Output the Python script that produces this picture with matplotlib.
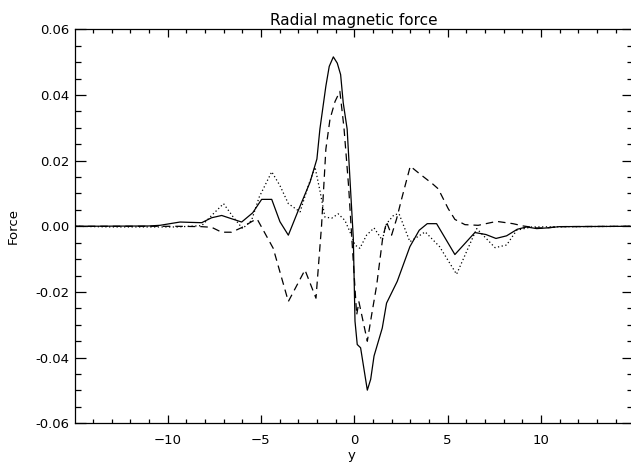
import matplotlib
matplotlib.use('Agg')
import matplotlib.pyplot as plt
from matplotlib.ticker import MultipleLocator

# solid curve
x_solid = [-14.94, -11.0, -10.4, -9.87, -9.33, -8.8, -8.17, -7.64, -7.1, -6.57, -6.03,
           -5.44, -4.96, -4.42, -3.98, -3.53, -3.0, -2.37, -2.0, -1.84, -1.52, -1.34,
           -1.12, -0.91, -0.73, -0.59, -0.38, -0.23, -0.05, 0.04, 0.16, 0.34, 0.70,
           0.88, 1.06, 1.5, 1.73, 2.3, 2.98, 3.48, 3.91, 4.41, 5.39, 6.46, 7.05,
           7.59, 8.16, 8.73, 9.23, 9.77, 10.3, 11.0, 14.94]
y_solid = [0.0, 0.0001, 0.0003, 0.0008, 0.0013, 0.0012, 0.0011, 0.0026, 0.0033, 0.0023, 0.0013,
           0.0041, 0.0082, 0.0082, 0.0014, -0.0027, 0.0048, 0.0134, 0.0205, 0.0296, 0.0427, 0.0487,
           0.0516, 0.0497, 0.0462, 0.0376, 0.0296, 0.0144, -0.0037, -0.0289, -0.036, -0.037, -0.0499,
           -0.0466, -0.0395, -0.031, -0.0234, -0.0168, -0.0062, -0.0012, 0.0008, 0.0008, -0.0086, -0.0019, -0.0025,
           -0.0037, -0.0029, -0.0009, -0.0002, -0.0007, -0.0005, -0.0001, 0.0]

# dashed curve
x_dash = [-14.94, -9.5, -8.2, -7.64, -7.1, -6.57, -6.03, -5.44, -5.2, -4.34, -3.53,
          -2.64, -2.05, -1.75, -1.52, -1.30, -1.03, -0.77, -0.55, -0.3, -0.14, 0.13,
          0.25, 0.70, 0.93, 1.2, 1.52, 1.73, 2.0, 2.27, 2.54, 3.0, 3.5, 4.2, 4.5,
          5.03, 5.39, 5.93, 6.64, 7.63, 8.5, 9.05, 9.77, 10.3, 11.0, 14.94]
y_dash = [0.0, 0.0, -0.0001, -0.0003, -0.0018, -0.0018, -0.0004, 0.0016, 0.0022, -0.0067, -0.0229,
          -0.0133, -0.0219, 0.0003, 0.0235, 0.0326, 0.038, 0.0411, 0.03, 0.012, -0.0027, -0.027,
          -0.023, -0.035, -0.027, -0.018, -0.0037, 0.0013, -0.0027, 0.0023, 0.0084, 0.0183, 0.0160, 0.0129, 0.0114,
          0.0054, 0.0021, 0.0005, 0.0003, 0.0015, 0.0008, 0.0001, -0.0005, -0.0005, -0.0001, 0.0]

# dotted curve
x_dot = [-14.94, -13.0, -9.5, -8.17, -7.55, -7.0, -6.48, -5.98, -5.5, -5.09, -4.42,
         -3.98, -3.53, -2.9, -2.46, -2.1, -1.84, -1.57, -1.2, -0.86, -0.5, -0.23,
         0.04, 0.3, 0.66, 1.06, 1.5, 1.73, 2.13, 2.4, 2.98, 3.8, 4.57, 5.48,
         6.56, 7.54, 8.16, 8.7, 9.5, 14.94]
y_dot = [0.0, -0.0002, -0.0002, 0.0002, 0.0038, 0.0069, 0.0028, -0.0007, 0.0018, 0.0089, 0.0166,
         0.0124, 0.0069, 0.0044, 0.0124, 0.018, 0.0109, 0.0028, 0.0025, 0.0038, 0.0018, -0.0017,
         -0.0057, -0.0067, -0.0027, -0.0005, -0.0042, 0.0008, 0.0035, 0.0038, -0.0047, -0.0017, -0.0062, -0.0146,
         -0.0007, -0.0065, -0.0057, -0.0012, -0.0002, 0.0]

fig = plt.figure(figsize=(6.31, 4.63), dpi=100)
ax = fig.add_axes([75.3 / 631, 39.7 / 463, 557.9 / 631, 394 / 463])

ax.plot(x_solid, y_solid, color='black', lw=0.9)
ax.plot(x_dash, y_dash, color='black', lw=0.9, dashes=(6, 4))
ax.plot(x_dot, y_dot, color='black', lw=0.9, dashes=(1, 2))

ax.set_xlim(-14.94, 14.94)
ax.set_ylim(-0.06, 0.06)
ax.xaxis.set_major_locator(MultipleLocator(5))
ax.xaxis.set_minor_locator(MultipleLocator(1))
ax.yaxis.set_major_locator(MultipleLocator(0.02))
ax.yaxis.set_minor_locator(MultipleLocator(0.005))
ax.yaxis.set_major_formatter(matplotlib.ticker.FormatStrFormatter('%.2f'))

ax.tick_params(axis='both', which='both', direction='in', top=True, right=True,
               labelsize=9.5, width=0.9)
ax.tick_params(axis='x', which='major', length=5.5, pad=7.5)
ax.tick_params(axis='x', which='minor', length=3)
ax.tick_params(axis='y', which='major', length=8, pad=4)
ax.tick_params(axis='y', which='minor', length=4)
for s in ax.spines.values():
    s.set_linewidth(0.9)

ax.set_title('Radial magnetic force', fontsize=11, pad=3)
ax.set_xlabel('y', fontsize=9.5, va='center')
ax.xaxis.set_label_coords(0.5 - 3 / 557.9, -(455.5 - 423.3) / 394)
ax.set_ylabel('Force', fontsize=9.5, va='center')
ax.yaxis.set_label_coords(-(75.3 - 13) / 557.9, 0.5)

fig.savefig('out.png', dpi=100)
